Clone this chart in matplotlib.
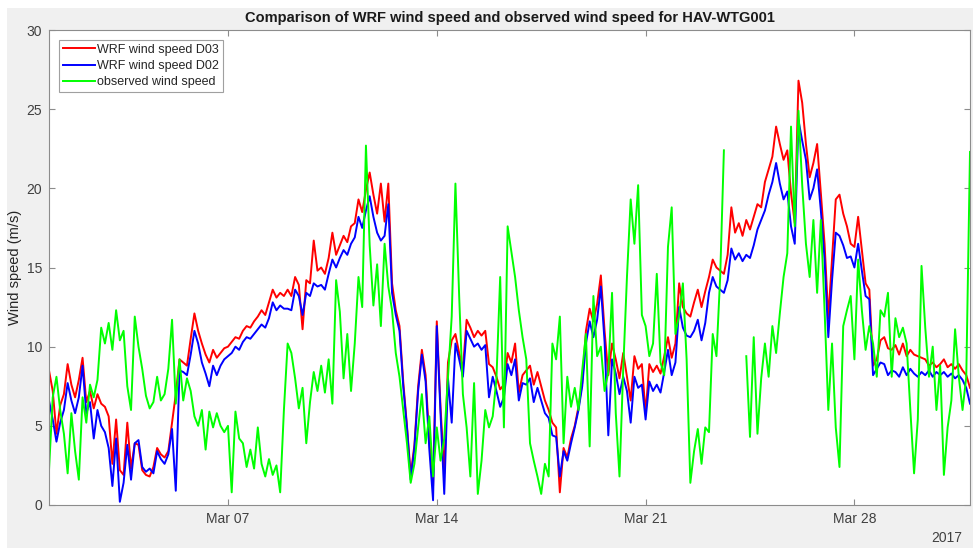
import numpy as np
import pandas as pd
import matplotlib
matplotlib.use("Agg")
import matplotlib.pyplot as plt
import matplotlib.dates as mdates
from matplotlib.patches import Rectangle

nan = np.nan

# 3-hourly values, one row of eight per day, Mar 1 00:00 .. Mar 31 21:00
wrf_d03 = [
    8.5, 7.2, 4.5, 6.3, 7.0, 8.9, 7.6, 6.8,
    7.9, 9.3, 6.5, 7.2, 6.1, 7.0, 6.4, 6.2,
    5.6, 2.6, 5.4, 2.2, 1.9, 5.2, 2.3, 3.9,
    3.8, 2.2, 1.9, 1.8, 2.4, 3.6, 3.2, 3.0,
    3.4, 5.2, 7.0, 9.2, 9.0, 8.8, 10.5, 12.1,
    11.0, 10.2, 9.5, 9.0, 9.8, 9.3, 9.6, 9.9,
    10.0, 10.3, 10.6, 10.5, 11.0, 11.3, 11.2, 11.6,
    11.9, 12.3, 12.0, 12.8, 13.6, 13.1, 13.4, 13.2,
    13.6, 13.2, 14.4, 13.9, 11.1, 14.2, 14.0, 16.7,
    14.8, 15.0, 14.6, 15.6, 17.2, 15.8, 16.4, 17.0,
    16.6, 17.6, 17.8, 19.3, 18.5, 19.9, 21.0, 19.6,
    18.4, 20.3, 17.9, 20.3, 14.0, 12.3, 11.3, 7.8,
    5.0, 1.9, 3.8, 7.5, 9.8, 8.2, 4.0, 1.2,
    11.6, 6.2, 2.0, 9.0, 10.4, 10.8, 9.6, 8.6,
    11.7, 11.2, 10.6, 11.0, 10.7, 11.0, 8.9, 8.7,
    8.1, 7.3, 7.6, 9.6, 9.0, 10.2, 7.1, 8.2,
    8.5, 8.8, 7.6, 8.4, 7.5, 6.6, 6.0, 5.2,
    4.9, 0.8, 3.6, 3.0, 4.2, 5.0, 6.2, 7.7,
    11.0, 12.4, 11.6, 12.7, 14.5, 11.0, 8.2, 10.2,
    9.2, 8.0, 9.6, 8.1, 6.6, 9.4, 8.6, 8.9,
    5.8, 8.9, 8.4, 8.8, 8.3, 9.4, 10.6, 9.3,
    10.2, 14.0, 12.5, 12.1, 11.9, 12.8, 13.6, 12.5,
    13.5, 14.4, 15.5, 15.0, 14.8, 14.6, 15.8, 18.8,
    17.2, 17.8, 17.0, 18.0, 17.4, 18.2, 19.0, 18.8,
    20.4, 21.2, 22.0, 23.9, 22.8, 21.8, 22.4, 19.7,
    17.8, 26.8, 25.4, 22.8, 20.7, 21.6, 22.8, 19.7,
    16.5, 11.8, 15.5, 19.3, 19.6, 18.4, 17.6, 16.5,
    16.3, 18.2, 16.1, 14.0, 13.6, 8.8, 9.2, 10.4,
    10.6, 9.9, 9.8, 10.1, 9.5, 10.2, 9.4, 9.8,
    9.5, 9.4, 9.3, 9.2, 8.8, 9.0, 8.7, 8.9,
    9.2, 8.7, 8.9, 8.6, 8.9, 8.5, 8.2, 7.4,
]

wrf_d02 = [
    6.6, 5.4, 4.0, 5.2, 6.0, 7.7, 6.6, 5.8,
    6.8, 8.8, 5.8, 6.5, 4.2, 6.0, 5.0, 4.6,
    3.6, 1.2, 4.2, 0.2, 1.4, 3.8, 1.6, 3.9,
    4.1, 2.4, 2.1, 2.3, 2.0, 3.4, 2.9, 2.6,
    3.2, 4.8, 0.9, 8.5, 8.4, 8.2, 9.5, 11.0,
    10.2, 9.0, 8.3, 7.5, 8.8, 8.2, 8.8, 9.2,
    9.4, 9.6, 10.0, 9.8, 10.3, 10.6, 10.5, 10.8,
    11.1, 11.4, 11.2, 11.8, 12.8, 12.3, 12.6, 12.4,
    12.4, 12.3, 13.6, 13.2, 12.0, 13.4, 13.2, 14.0,
    13.8, 13.9, 13.6, 14.6, 15.5, 15.0, 15.6, 16.1,
    15.8, 16.5, 16.9, 18.2, 17.5, 18.6, 19.5, 18.2,
    17.2, 16.7, 17.0, 19.0, 13.4, 12.0, 11.0, 7.5,
    4.9, 1.6, 3.6, 7.2, 9.5, 7.8, 3.5, 0.3,
    11.3, 5.8, 0.7, 8.0, 5.2, 10.2, 9.2, 8.1,
    11.0, 10.5, 10.0, 10.2, 9.8, 10.1, 6.8, 8.1,
    7.2, 6.2, 6.8, 8.9, 8.2, 9.2, 6.6, 7.7,
    7.6, 8.0, 6.5, 7.4, 6.6, 5.8, 5.5, 4.4,
    4.3, 1.8, 3.4, 2.8, 3.9, 4.9, 6.0, 7.5,
    10.2, 11.6, 10.6, 11.7, 13.8, 10.3, 4.4, 9.2,
    8.3, 7.0, 8.1, 7.2, 5.2, 8.1, 7.4, 7.6,
    5.4, 7.8, 7.2, 7.6, 7.1, 8.4, 9.8, 8.2,
    9.0, 12.5, 11.2, 10.7, 10.6, 11.0, 11.7, 10.4,
    11.5, 13.4, 14.4, 13.8, 13.6, 13.4, 14.2, 16.2,
    15.5, 15.9, 15.4, 15.8, 15.6, 16.4, 17.4, 18.0,
    18.6, 19.6, 20.4, 21.6, 20.3, 19.3, 19.8, 17.6,
    16.5, 24.3, 23.0, 21.8, 19.3, 20.0, 21.2, 18.6,
    15.5, 10.6, 14.2, 17.2, 17.0, 16.4, 15.6, 15.7,
    15.0, 16.5, 14.8, 13.2, 13.0, 8.2, 8.6, 9.0,
    8.9, 8.2, 8.5, 8.4, 8.1, 8.7, 8.2, 8.6,
    8.3, 8.1, 8.4, 8.2, 8.5, 8.1, 8.4, 8.2,
    8.4, 8.1, 8.3, 8.0, 8.2, 7.9, 7.4, 6.4,
]

# observed at the turbine; nan where the record has a gap
observed = [
    2.2, 6.8, 8.1, 6.0, 4.5, 2.0, 5.8, 3.4,
    1.6, 6.8, 5.2, 7.6, 6.8, 7.9, 11.2, 10.2,
    11.5, 9.8, 12.3, 10.4, 11.0, 7.5, 6.0, 11.9,
    10.0, 8.6, 6.9, 6.1, 6.5, 8.1, 6.6, 7.0,
    8.6, 11.7, 6.4, 9.2, 6.6, 8.0, 7.2, 5.6,
    5.0, 6.0, 3.5, 5.9, 4.9, 5.8, 5.0, 4.6,
    5.0, 0.8, 5.9, 4.2, 3.9, 2.4, 3.5, 2.3,
    4.9, 2.6, 1.8, 2.9, 1.9, 2.5, 0.8, 6.0,
    10.2, 9.6, 8.0, 6.1, 7.4, 3.9, 6.5, 8.4,
    7.2, 8.8, 7.1, 9.2, 6.4, 14.2, 12.2, 8.0,
    10.8, 7.2, 10.2, 14.4, 12.5, 22.7, 16.4, 12.6,
    15.2, 11.3, 16.5, 13.8, 12.3, 9.6, 8.1, 6.0,
    3.9, 1.4, 2.6, 4.9, 7.0, 3.9, 5.6, 1.8,
    4.9, 2.8, 4.2, 8.1, 11.9, 20.3, 13.2, 7.0,
    4.9, 1.8, 7.7, 0.7, 2.8, 6.0, 4.9, 5.6,
    8.0, 14.4, 4.9, 17.6, 16.0, 14.4, 12.3, 10.6,
    9.2, 3.9, 2.8, 1.8, 0.7, 2.6, 1.8, 10.2,
    9.2, 11.9, 3.9, 8.1, 6.2, 7.4, 6.0, 8.5,
    10.8, 3.7, 13.2, 9.4, 10.0, 7.2, 8.4, 13.4,
    5.8, 1.8, 8.6, 14.4, 19.3, 16.5, 20.2, 12.0,
    11.3, 9.4, 10.2, 14.6, 9.0, 8.2, 16.3, 18.8,
    10.8, 12.0, 14.0, 9.2, 1.4, 3.4, 4.8, 2.6,
    4.9, 4.6, 10.8, 9.4, 14.4, 22.4, nan, nan,
    nan, nan, nan, 9.4, 4.3, 10.6, 4.5, 8.0,
    10.2, 8.1, 11.3, 9.6, 12.1, 14.4, 15.9, 23.9,
    17.6, 24.9, 20.2, 16.5, 14.4, 18.0, 13.4, 18.0,
    12.3, 6.0, 10.2, 4.9, 2.4, 11.3, 12.3, 13.2,
    9.2, 15.5, 12.3, 9.8, 11.3, 10.2, 8.1, 12.3,
    11.9, 13.4, 8.1, 11.8, 10.6, 11.2, 10.2, 6.0,
    2.0, 5.4, 15.1, 11.2, 8.1, 10.0, 6.0, 8.8,
    1.9, 4.9, 6.6, 11.1, 8.1, 6.0, 8.1, 22.3,
]

times = pd.date_range("2017-03-01 00:00", periods=len(wrf_d03), freq="3h")

W, H = 973, 548
fig = plt.figure(figsize=(W / 100, H / 100), dpi=100, facecolor="white")
fig.patches.append(Rectangle((7 / W, 0), 1, 1 - 8 / H, transform=fig.transFigure,
                             facecolor="#f0f0f0", edgecolor="none", zorder=-1))

ax = fig.add_axes([49 / W, 1 - 505 / H, 921 / W, 475 / H])
ax.set_facecolor("white")

ax.plot(times, wrf_d03, color="#ff0000", lw=1.4, label="WRF wind speed D03")
ax.plot(times, wrf_d02, color="#0000ff", lw=1.4, label="WRF wind speed D02")
ax.plot(times, observed, color="#00ff00", lw=1.4, label="observed wind speed")

ax.set_xlim(times[0], times[-1])
ax.set_ylim(0, 30)
ax.set_yticks(np.arange(0, 31, 5))
ax.xaxis.set_major_locator(mdates.DayLocator(bymonthday=[7, 14, 21, 28]))
ax.xaxis.set_major_formatter(mdates.DateFormatter("%b %d"))

for side in ax.spines.values():
    side.set_color("#8c8c8c")
    side.set_linewidth(0.8)
ax.tick_params(direction="in", length=4, width=0.8, color="#8c8c8c",
               top=True, right=True, labelsize=10, labelcolor="#404040", pad=5)
for lab in ax.get_xticklabels() + ax.get_yticklabels():
    lab.set_family("Liberation Sans")

ax.set_ylabel("Wind speed (m/s)", fontsize=10.5, color="#262626",
              family="Liberation Sans", labelpad=3)
ax.set_title("Comparison of WRF wind speed and observed wind speed for HAV-WTG001",
             fontsize=10.5, fontweight="bold", family="Liberation Sans",
             color="#1a1a1a", pad=6)
fig.text(962 / W, 1 - 538 / H, "2017", ha="right", va="center", fontsize=10,
         color="#404040", family="Liberation Sans")

leg = ax.legend(loc="upper left", bbox_to_anchor=(10 / 921, 1 - 10 / 475),
                prop={"family": "Liberation Sans", "size": 9},
                handlelength=2.6, handletextpad=0.15, borderpad=0.3,
                labelspacing=0.35, borderaxespad=0, fancybox=False,
                framealpha=1, edgecolor="#a0a0a0")
leg.get_frame().set_linewidth(0.8)
for t in leg.get_texts():
    t.set_color("#262626")

fig.savefig("out.png", dpi=100, facecolor=fig.get_facecolor())
